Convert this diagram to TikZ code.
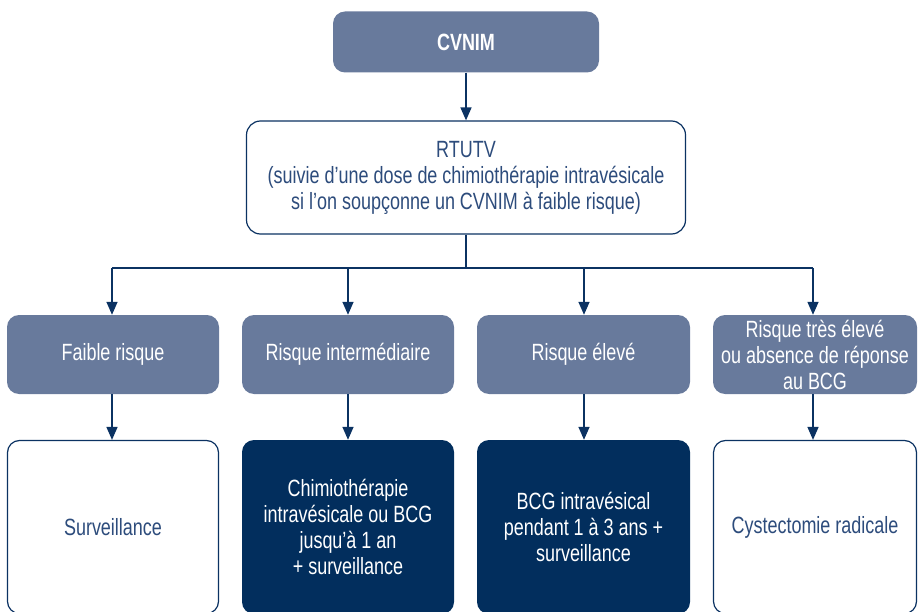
\documentclass[tikz,border=0pt]{standalone}
\usepackage{fontspec}
\setmainfont[FakeStretch=0.765]{Liberation Sans}
\usetikzlibrary{arrows.meta}
\definecolor{slate}{HTML}{687A9C}
\definecolor{navy}{HTML}{022E5D}
\definecolor{linec}{HTML}{0B3262}
\definecolor{txtblue}{HTML}{2D4C7C}
\tikzset{
  base/.style={rectangle, rounded corners=12pt, align=center, inner sep=0pt,
    font=\fontsize{23.5}{26}\selectfont},
  slatebox/.style={base, fill=slate, text=white, minimum width=212pt, minimum height=79pt},
  navybox/.style={base, fill=navy, text=white, minimum width=212pt, minimum height=174pt},
  whitebox/.style={base, fill=white, draw=linec, line width=1.2pt, text=txtblue, minimum width=211pt, minimum height=173pt},
  conn/.style={draw=linec, line width=1.5pt},
  arr/.style={conn, -{Triangle[length=13pt,width=11pt]}}
}
\begin{document}
\begin{tikzpicture}[x=1pt,y=-1pt]
\useasboundingbox (0,0) rectangle (918,612);
\clip (0,0) rectangle (918,612);
% top
\node[base, fill=slate, text=white, minimum width=266pt, minimum height=61pt,
  font=\fontsize{23.5}{26}\selectfont\bfseries] (cvnim) at (466,42) {CVNIM};
\node[base, fill=white, draw=linec, line width=1.2pt, text=txtblue,
  rounded corners=14pt, minimum width=439pt, minimum height=113pt] (rtutv) at (466,177.5)
  {RTUTV\\(suivie d’une dose de chimiothérapie intravésicale\\si l’on soupçonne un CVNIM à faible risque)};
% row 2
\node[slatebox] (r1) at (113,354.5) {Faible risque};
\node[slatebox] (r2) at (348,354.5) {Risque intermédiaire};
\node[slatebox, minimum width=213pt] (r3) at (583.5,354.5) {Risque élevé};
\node[slatebox, minimum width=204pt] (r4) at (815,354.5) {Risque très élevé\\ou absence de réponse\\au BCG};
% row 3
\node[whitebox] (t1) at (113,527) {Surveillance};
\node[navybox] (t2) at (348,527) {Chimiothérapie\\intravésicale ou BCG\\jusqu’à 1 an\\+ surveillance};
\node[navybox, minimum width=213pt] (t3) at (583.5,527) {BCG intravésical\\pendant 1 à 3 ans +\\surveillance};
\node[whitebox, minimum width=203pt] (t4) at (815,527) {Cystectomie radicale};
% connectors
\coordinate (hub) at (466,268);
\coordinate (j1) at (112,268);
\coordinate (j2) at (348,268);
\coordinate (j3) at (584,268);
\coordinate (j4) at (813,268);
\draw[arr] (cvnim.south) -- (rtutv.north);
\draw[conn] (rtutv.south) -- (hub);
\draw[conn] (j1) -- (j4);
\draw[arr] (j1) -- (j1 |- r1.north);
\draw[arr] (j2) -- (j2 |- r2.north);
\draw[arr] (j3) -- (j3 |- r3.north);
\draw[arr] (j4) -- (j4 |- r4.north);
\draw[arr] (r1.south -| j1) -- (j1 |- t1.north);
\draw[arr] (r2.south -| j2) -- (j2 |- t2.north);
\draw[arr] (r3.south -| j3) -- (j3 |- t3.north);
\draw[arr] (r4.south -| j4) -- (j4 |- t4.north);
\end{tikzpicture}
\end{document}
